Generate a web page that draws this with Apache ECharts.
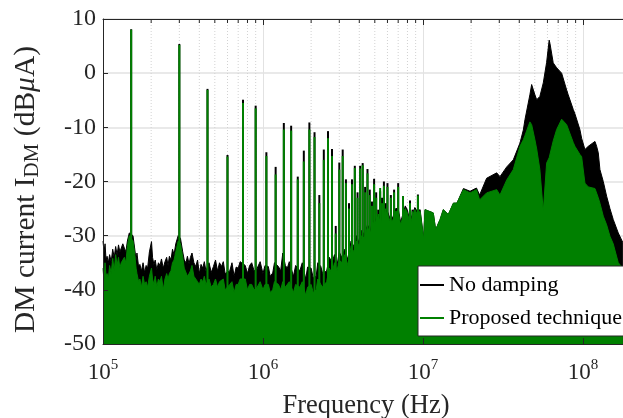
<!DOCTYPE html>
<html>
<head>
<meta charset="utf-8">
<script src="https://cdn.jsdelivr.net/npm/echarts@6/dist/echarts.min.js"></script>
<style>html,body{margin:0;padding:0;background:#fff}#c{width:623px;height:418px}</style>
</head>
<body>
<div id="c"></div>
<script>
// ---------- data ----------
// Switching harmonics (Hz) and their peak levels (dBuA)
const harmonicFreq = [1.5e5,3.0e5,4.5e5,6.0e5,7.5e5,9.0e5,1.05e6,1.2e6,1.35e6,1.5e6,1.65e6,1.8e6,1.95e6,2.1e6,2.25e6,2.4e6,2.55e6,2.7e6,2.85e6,3.0e6,3.15e6,3.3e6,3.45e6,3.6e6,3.75e6,3.9e6,4.05e6,4.2e6,4.35e6,4.5e6,4.65e6,4.8e6,4.95e6,5.1e6,5.25e6,5.4e6,5.55e6,5.7e6,5.85e6,6.0e6,6.3e6,6.6e6,7.0e6,7.5e6,8.3e6,8.6e6,9.3e6];
const peakNoDamping = [8.1,5.4,-2.9,-15.1,-4.9,-6.0,-14.6,-17.3,-9.2,-9.7,-19.1,-14.3,-9.1,-10.9,-22.5,-14.1,-10.7,-14.0,-28.2,-16.5,-14.1,-19.6,-24.0,-19.6,-17.1,-22.0,-17.1,-16.6,-21.0,-17.7,-21.5,-23.7,-19.5,-22.0,-25.2,-21.8,-23.0,-20.0,-24.0,-20.3,-22.5,-21.5,-20.3,-22.7,-23.5,-25.2,-22.4];
const peakProposed  = [8.0,5.2,-3.1,-15.4,-5.5,-6.5,-15.3,-18.7,-10.4,-10.6,-19.6,-16.3,-10.4,-11.8,-24.0,-16.0,-12.0,-15.3,-29.6,-17.8,-15.3,-20.3,-25.0,-20.5,-17.5,-23.0,-17.6,-17.0,-22.0,-18.5,-22.5,-24.5,-20.5,-23.0,-26.0,-21.2,-24.0,-20.8,-25.0,-21.0,-23.0,-22.0,-21.0,-22.7,-24.0,-25.5,-22.6];

// Upper envelope of the broadband spectrum (Hz, dBuA)
const envFreq = [1.000e5,1.015e5,1.030e5,1.045e5,1.060e5,1.080e5,1.100e5,1.125e5,1.150e5,1.175e5,1.200e5,1.225e5,1.250e5,1.275e5,1.300e5,1.330e5,1.360e5,1.390e5,1.420e5,1.460e5,1.540e5,1.580e5,1.610e5,1.630e5,1.670e5,1.700e5,1.740e5,1.780e5,1.820e5,1.860e5,1.900e5,1.950e5,2.010e5,2.040e5,2.080e5,2.120e5,2.170e5,2.220e5,2.270e5,2.320e5,2.380e5,2.440e5,2.500e5,2.550e5,2.600e5,2.660e5,2.720e5,2.780e5,2.850e5,2.950e5,3.050e5,3.150e5,3.220e5,3.300e5,3.370e5,3.450e5,3.520e5,3.600e5,3.700e5,3.800e5,3.900e5,4.000e5,4.100e5,4.200e5,4.300e5,4.400e5,4.600e5,4.750e5,4.900e5,5.050e5,5.200e5,5.350e5,5.500e5,5.650e5,5.800e5,6.200e5,6.400e5,6.600e5,6.800e5,7.000e5,7.200e5,7.750e5,8.000e5,8.250e5,8.500e5,8.800e5,9.200e5,9.600e5,1.000e6,1.030e6,1.080e6,1.110e6,1.150e6,1.180e6,1.250e6,1.290e6,1.330e6,1.380e6,1.420e6,1.460e6,1.550e6,1.600e6,1.700e6,1.760e6,1.850e6,1.900e6,2.000e6,2.060e6,2.150e6,2.200e6,2.300e6,2.360e6,2.500e6,2.600e6,2.700e6,2.800e6,2.900e6,3.000e6,3.100e6,3.250e6,3.400e6,3.550e6,3.700e6,3.850e6,4.000e6,4.150e6,4.300e6,4.500e6,4.700e6,4.850e6,5.000e6,5.200e6,5.500e6,5.800e6,6.000e6,6.250e6,6.500e6,6.750e6,7.000e6,7.250e6,7.500e6,7.750e6,8.000e6,8.300e6,8.600e6,8.900e6,9.200e6,9.600e6,1.01e7,1.03e7,1.16e7,1.20e7,1.28e7,1.34e7,1.44e7,1.55e7,1.63e7,1.79e7,1.97e7,2.16e7,2.26e7,2.50e7,2.89e7,3.03e7,3.34e7,3.67e7,4.04e7,4.24e7,4.34e7,4.66e7,4.78e7,5.01e7,5.14e7,5.38e7,5.65e7,5.93e7,6.15e7,6.22e7,6.52e7,6.85e7,7.36e7,7.91e7,8.09e7,8.70e7,8.91e7,9.57e7,9.81e7,1.029e8,1.08e8,1.189e8,1.218e8,1.247e8,1.277e8,1.34e8,1.406e8,1.475e8,1.546e8,1.663e8,1.778e8];
const envNoDamping = [-31.0,-33.0,-31.5,-34.5,-33.8,-35.0,-33.5,-34.8,-32.5,-34.0,-32.0,-33.5,-31.7,-33.0,-33.2,-31.5,-32.3,-33.0,-31.0,-29.5,-30.0,-32.5,-34.5,-33.2,-35.8,-35.3,-36.5,-35.0,-36.8,-35.5,-36.0,-33.0,-31.1,-34.0,-35.3,-34.5,-36.3,-35.0,-35.5,-34.3,-36.0,-34.8,-34.0,-35.5,-33.8,-34.5,-32.5,-33.5,-31.5,-30.0,-30.5,-33.0,-34.5,-35.0,-33.8,-35.2,-34.0,-33.2,-35.0,-35.7,-34.5,-37.0,-35.3,-36.0,-34.8,-36.5,-35.0,-36.8,-35.7,-34.5,-36.5,-35.0,-35.7,-34.8,-37.0,-36.5,-35.0,-37.5,-35.8,-36.0,-34.8,-35.5,-37.0,-35.5,-35.0,-36.5,-36.0,-34.8,-37.0,-35.5,-35.7,-37.5,-36.9,-35.0,-35.7,-36.5,-33.2,-35.5,-36.0,-34.8,-37.5,-35.5,-36.5,-35.0,-38.0,-35.8,-36.0,-37.8,-37.5,-35.0,-35.7,-37.0,-36.5,-34.0,-35.0,-33.5,-35.5,-33.0,-34.0,-32.5,-34.5,-31.0,-32.0,-30.0,-31.5,-29.0,-30.0,-28.0,-29.0,-27.0,-27.5,-26.0,-27.0,-25.0,-25.5,-27.0,-26.5,-25.0,-25.0,-27.5,-26.0,-24.5,-25.3,-27.5,-26.0,-24.8,-25.5,-25.2,-30.5,-25.2,-25.8,-28.9,-27.0,-25.2,-26.1,-24.0,-24.0,-21.3,-21.8,-21.2,-22.5,-19.4,-18.4,-19.1,-17.3,-16.0,-12.9,-10.5,-8.6,-4.0,-2.1,-4.0,-4.9,-4.3,-1.8,2.0,6.1,5.5,1.9,1.0,0.0,-3.1,-4.0,-6.7,-7.5,-10.4,-12.0,-14.1,-13.5,-12.6,-13.5,-14.7,-17.8,-20.0,-22.7,-25.0,-27.0,-29.5,-31.3];
const envProposed  = [-36.0,-38.5,-35.0,-37.5,-37.0,-38.0,-35.5,-37.0,-34.2,-36.5,-33.5,-35.5,-34.0,-36.0,-35.0,-34.5,-34.0,-35.0,-32.0,-30.0,-31.0,-33.5,-36.0,-37.0,-38.5,-38.0,-39.5,-37.5,-39.0,-38.5,-39.5,-37.5,-36.0,-38.0,-39.0,-37.5,-39.5,-38.0,-38.5,-37.5,-40.0,-38.0,-37.0,-38.0,-37.0,-36.5,-35.0,-34.5,-33.0,-31.0,-31.5,-34.0,-36.0,-36.0,-37.5,-37.0,-36.5,-35.5,-37.5,-38.0,-38.5,-39.0,-38.0,-38.5,-37.5,-39.0,-38.0,-39.5,-39.0,-38.0,-39.5,-38.5,-38.5,-38.0,-40.0,-39.0,-38.5,-40.5,-39.0,-39.0,-38.0,-38.0,-40.0,-39.0,-39.0,-40.0,-39.5,-38.5,-40.0,-39.0,-39.0,-40.5,-40.0,-38.5,-39.0,-40.0,-38.5,-39.5,-39.5,-38.5,-40.5,-39.0,-39.5,-38.5,-41.0,-39.5,-39.0,-40.5,-40.0,-38.0,-39.0,-39.5,-38.5,-36.0,-37.0,-35.0,-36.5,-34.5,-35.0,-33.5,-35.5,-32.0,-33.0,-31.0,-32.0,-30.0,-30.5,-28.5,-29.5,-27.5,-28.0,-26.5,-27.5,-25.5,-26.0,-27.5,-27.0,-25.5,-25.5,-28.0,-26.5,-25.0,-25.8,-28.0,-26.5,-25.2,-26.0,-25.5,-30.7,-25.2,-25.8,-28.9,-27.0,-25.2,-26.1,-24.0,-24.0,-21.5,-22.1,-21.5,-23.4,-22.1,-21.5,-22.5,-19.7,-17.8,-13.5,-12.3,-11.5,-9.0,-9.5,-12.3,-14.0,-17.8,-25.5,-16.6,-15.6,-15.4,-12.5,-10.4,-8.5,-9.5,-9.8,-12.8,-13.5,-15.0,-15.4,-20.3,-21.0,-21.3,-21.5,-23.0,-24.0,-26.4,-28.0,-30.1,-31.5,-35.0,-36.0];

// Axis ticks
const yTicks = [-50,-40,-30,-20,-10,0,10];
const minorTicks = [2e5,3e5,4e5,5e5,6e5,7e5,8e5,9e5,2e6,3e6,4e6,5e6,6e6,7e6,8e6,9e6,2e7,3e7,4e7,5e7,6e7,7e7,8e7,9e7];
const xMin = 1e5, xMax = 1.78e8;

// ---------- chart ----------
const FONT = 'Liberation Serif';
const AX = '#262626';
const GRID = '#e2e2e2';
const GREEN = '#008000';
const chart = echarts.init(document.getElementById('c'));

function spikeSeries(name, peaks, color, z) {
  return {
    name: name, type: 'custom', z: z, silent: true, clip: true,
    data: harmonicFreq.map((f, i) => [f, peaks[i]]),
    encode: {x: 0, y: 1},
    renderItem: function (params, api) {
      const top = api.coord([api.value(0), api.value(1)]);
      const bot = api.coord([api.value(0), yTicks[0]]);
      return {type: 'line', shape: {x1: top[0], y1: top[1], x2: bot[0], y2: bot[1]},
              style: {stroke: color, lineWidth: 2}};
    }
  };
}

const logAxisBase = {type: 'log', logBase: 10, min: xMin, max: xMax};

const option = {
  animation: false,
  textStyle: {fontFamily: FONT},
  grid: {left: 103, right: 0, top: 19, bottom: 74, containLabel: false, outerBoundsMode: 'none'},
  legend: {
    z: 30,
    data: [{name: 'No damping', icon: 'rect'}, {name: 'Proposed technique', icon: 'rect'}],
    orient: 'vertical', left: 418, top: 266,
    padding: [8, 40, 7, 2], itemGap: 11, itemWidth: 24, itemHeight: 2,
    backgroundColor: '#fff', borderColor: AX, borderWidth: 1,
    textStyle: {fontFamily: FONT, fontSize: 22, color: '#000', lineHeight: 22}
  },
  xAxis: [
    Object.assign({}, logAxisBase, {
      position: 'bottom', z: 0,
      axisLine: {show: false}, axisTick: {show: false}, axisLabel: {show: false},
      splitLine: {show: true, lineStyle: {color: GRID, width: 1}}
    }),
    Object.assign({}, logAxisBase, {
      position: 'bottom', z: 10,
      name: 'Frequency (Hz)', nameLocation: 'middle', nameGap: 47,
      nameTextStyle: {fontFamily: FONT, fontSize: 26.5, color: AX, padding: [0, 0, 0, 6]},
      axisLine: {show: true, onZero: false, lineStyle: {color: AX, width: 1}},
      axisTick: {show: true, inside: true, length: 6, lineStyle: {color: AX}},
      axisLabel: {
        showMaxLabel: false, margin: 14, color: AX,
        formatter: v => '10{sup|' + Math.round(Math.log10(v)) + '}',
        rich: {sup: {fontSize: 15, fontFamily: FONT, color: AX, verticalAlign: 'top', lineHeight: 14}},
        fontFamily: FONT, fontSize: 23, lineHeight: 30
      },
      splitLine: {show: false}
    }),
    Object.assign({}, logAxisBase, {
      position: 'top', z: 10,
      axisLine: {show: true, onZero: false, lineStyle: {color: AX, width: 1}},
      axisTick: {show: true, inside: true, length: 6, lineStyle: {color: AX}},
      axisLabel: {show: false}, splitLine: {show: false}
    })
  ],
  yAxis: [
    {
      type: 'value', min: -50, max: 10, interval: 10, z: 0,
      axisLine: {show: false}, axisTick: {show: false}, axisLabel: {show: false},
      splitLine: {show: true, lineStyle: {color: GRID, width: 1.5}}
    },
    {
      type: 'value', min: -50, max: 10, interval: 10, position: 'left', z: 10,
      name: 'DM current I{sub|DM} (dB{it|μ}A)', nameLocation: 'middle', nameGap: 60, nameRotate: 90,
      nameTextStyle: {
        fontFamily: FONT, fontSize: 29.5, color: AX, lineHeight: 34, padding: [0, 16, 0, 0],
        rich: {
          sub: {fontFamily: FONT, fontSize: 21, color: AX, verticalAlign: 'bottom', lineHeight: 21},
          it: {fontFamily: FONT, fontSize: 29.5, color: AX, fontStyle: 'italic', lineHeight: 34}
        }
      },
      axisLine: {show: true, onZero: false, lineStyle: {color: AX, width: 1}},
      axisTick: {show: true, inside: true, length: 5, lineStyle: {color: AX}},
      axisLabel: {fontFamily: FONT, fontSize: 24, color: AX, margin: 7},
      splitLine: {show: false}
    }
  ],
  series: [
    {
      type: 'custom', silent: true, z: 1, clip: true,
      data: minorTicks.map(v => [v]),
      encode: {x: 0},
      renderItem: function (params, api) {
        const t = api.coord([api.value(0), yTicks[yTicks.length - 1]]);
        const b = api.coord([api.value(0), yTicks[0]]);
        return {type: 'group', children: [
          {type: 'line', shape: {x1: t[0], y1: t[1], x2: b[0], y2: b[1]},
           style: {stroke: '#d2d2d2', lineWidth: 1, lineDash: [1, 2]}},
          {type: 'line', shape: {x1: t[0], y1: t[1], x2: t[0], y2: t[1] + 4},
           style: {stroke: AX, lineWidth: 1}}
        ]};
      }
    },
    {
      name: 'No damping', type: 'line', z: 2, showSymbol: false, symbol: 'none',
      color: '#000',
      data: envFreq.map((f, i) => [f, envNoDamping[i]]),
      lineStyle: {color: '#000', width: 1},
      areaStyle: {color: '#000', opacity: 1, origin: 'start'}
    },
    spikeSeries('No damping', peakNoDamping, '#000', 3),
    {
      name: 'Proposed technique', type: 'line', z: 4, showSymbol: false, symbol: 'none',
      color: GREEN,
      data: envFreq.map((f, i) => [f, envProposed[i]]),
      lineStyle: {color: GREEN, width: 1},
      areaStyle: {color: GREEN, opacity: 1, origin: 'start'}
    },
    spikeSeries('Proposed technique', peakProposed, GREEN, 5)
  ]
};
chart.setOption(option);
</script>
</body>
</html>
